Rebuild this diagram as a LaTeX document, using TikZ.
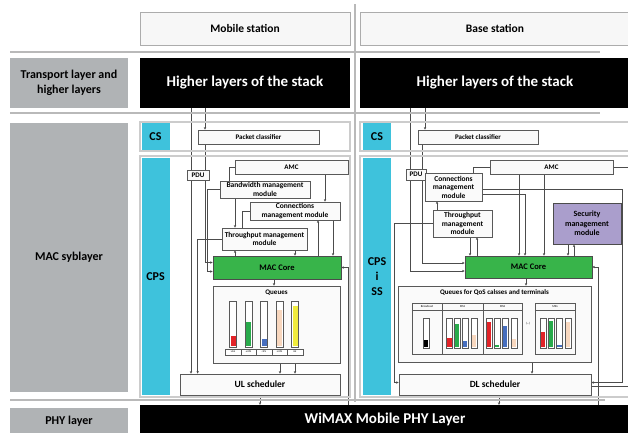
\documentclass[tikz,border=0pt]{standalone}
\usepackage{fontspec}
\setmainfont{Carlito}
\usetikzlibrary{positioning,arrows.meta,backgrounds}

\definecolor{laygray}{RGB}{176,179,181}
\definecolor{cpscyan}{RGB}{62,194,220}
\definecolor{coregreen}{RGB}{56,180,74}
\definecolor{secpurple}{RGB}{170,158,204}
\definecolor{qred}{RGB}{226,35,40}
\definecolor{qgreen}{RGB}{40,170,75}
\definecolor{qblue}{RGB}{70,110,190}
\definecolor{qpeach}{RGB}{248,215,190}
\definecolor{qyellow}{RGB}{240,235,60}

\tikzset{
  lay/.style={fill=laygray, inner sep=0pt, align=center,
    font=\bfseries\fontsize{12}{15}\selectfont},
  blk/.style={fill=black, text=white, inner sep=0pt,
    font=\bfseries\fontsize{15}{17}\selectfont},
  head/.style={draw=gray!65, fill=gray!6, line width=0.9pt, inner sep=0pt,
    font=\bfseries\fontsize{11.5}{13}\selectfont},
  region/.style={draw=gray!40, line width=1.3pt, inner sep=0pt},
  cyanbox/.style={fill=cpscyan, inner sep=0pt, align=center,
    font=\bfseries\fontsize{12}{15}\selectfont},
  mod/.style={draw=gray!70!black, fill=gray!4, line width=0.7pt, inner sep=0pt,
    align=center, font=\bfseries\fontsize{7.5}{8.5}\selectfont},
  hdr/.style={mod, font=\bfseries\fontsize{7}{8}\selectfont},
  core/.style={draw=gray!60!black, fill=coregreen, line width=0.7pt,
    inner sep=0pt, font=\bfseries\fontsize{8.5}{10}\selectfont},
  sched/.style={mod, font=\bfseries\fontsize{9.5}{11}\selectfont},
  sec/.style={draw=gray!60!black, fill=secpurple, line width=0.9pt,
    inner sep=0pt, align=center, font=\bfseries\fontsize{8}{9.5}\selectfont},
  qtitle/.style={inner sep=0pt, font=\bfseries\fontsize{7}{8}\selectfont},
  grp/.style={draw=gray!70!black, line width=0.5pt, inner sep=0pt},
  qlab/.style={inner sep=0pt, font=\fontsize{3}{3.5}\selectfont},
  qcell/.style={draw=gray!70!black, fill=white, line width=0.4pt,
    inner sep=0pt, font=\fontsize{2.5}{3}\selectfont},
  tube/.style={draw=gray!70!black, fill=white, line width=0.5pt},
  sepline/.style={draw=gray!55, line width=1.3pt},
  link/.style={draw=gray!60!black, line width=0.7pt},
  arr/.style={link, -{Stealth[length=2.6pt,width=2.4pt]}},
}

\begin{document}
\begin{tikzpicture}[x=1pt,y=-1pt]
\useasboundingbox (0,0) rectangle (628,432);
\clip (0,0) rectangle (628,432);

% separators
\draw[sepline] (10,52) -- (600,52);
\draw[sepline] (10,113) -- (600,113);
\draw[sepline] (10,400) -- (605,400);
\draw[sepline] (355,4) -- (355,402);

% layer labels
\node[lay, minimum width=118, minimum height=50] (trLab) at (69,83) {Transport layer and\\higher layers};
\node[lay, minimum width=118, minimum height=269] (macLab) at (69,257.5) {MAC syblayer};
\node[lay, minimum width=118, minimum height=26] (phyLab) at (69,421) {PHY layer};

% stations
\node[head, minimum width=210, minimum height=33] (msHead) at (245,28.5) {Mobile station};
\node[head, minimum width=270, minimum height=33] (bsHead) at (495,28.5) {Base station};
\node[blk, minimum width=210, minimum height=50] (hlMS) at (245,83) {Higher layers of the stack};
\node[blk, minimum width=270, minimum height=50] (hlBS) at (495,83) {Higher layers of the stack};
\node[blk, minimum width=490, minimum height=29] (phy) at (385,419.5) {WiMAX Mobile PHY Layer};

% mobile station
\node[region, minimum width=210, minimum height=29] (csMSr) at (245,136.5) {};
\node[region, minimum width=210, minimum height=241] (cpsMSr) at (245,276.5) {};
\node[cyanbox, minimum width=28, minimum height=27] (csMS) at (155.5,136.5) {CS};
\node[cyanbox, minimum width=28, minimum height=237] (cpsMS) at (155.5,276.5) {CPS};
\node[hdr, minimum width=121, minimum height=14] (pcMS) at (258.5,137) {Packet classifier};
\node[hdr, minimum width=22, minimum height=10] (pduMS) at (198,175) {PDU};
\node[hdr, minimum width=113, minimum height=14] (amcMS) at (291.5,167) {AMC};
\node[mod, minimum width=90, minimum height=17] (bwMS) at (265,189.5) {Bandwidth management\\module};
\node[mod, minimum width=90, minimum height=18] (conMS) at (295,211) {Connections\\management module};
\node[mod, minimum width=85, minimum height=22] (thrMS) at (264.5,239) {Throughput management\\module};
\node[core, minimum width=128, minimum height=23] (macMS) at (277,267.5) {MAC Core};
\node[mod, minimum width=127, minimum height=77] (queMS) at (276.5,324.5) {};
\node[qtitle, below=4pt of queMS.north] (queMSt) {Queues};
\foreach \x/\f/\c in {233/0.22/qred, 248.5/0.54/qgreen, 264/0.17/qblue,
    279.5/0.82/qpeach, 295/0.9/qyellow}{
  \draw[tube] (\x-3.3,301) rectangle (\x+3.3,347);
  \fill[\c] (\x-2.5,346.3) rectangle (\x+2.5,346.3-44.6*\f);
}
\foreach \x/\t [count=\i] in {233/UGS, 248.5/ertPS, 264/rtPS, 279.5/nrtPS, 295/BE}
  \node[qcell, minimum width=15.5, minimum height=6] (cell\i) at (\x,352) {\t};
\node[sched, minimum width=160, minimum height=21] (ulMS) at (260,384.5) {UL scheduler};

% base station
\node[region, minimum width=270, minimum height=29] (csBSr) at (495,136.5) {};
\node[region, minimum width=270, minimum height=241] (cpsBSr) at (495,276.5) {};
\node[cyanbox, minimum width=28, minimum height=27] (csBS) at (377,136.5) {CS};
\node[cyanbox, minimum width=28, minimum height=237] (cpsBS) at (377,276.5) {CPS\\i\\SS};
\node[hdr, minimum width=120, minimum height=14] (pcBS) at (478,137) {Packet classifier};
\node[hdr, minimum width=20, minimum height=11] (pduBS) at (416,174.5) {PDU};
\node[mod, minimum width=57, minimum height=28] (conBS) at (453.5,187) {Connections\\management\\module};
\node[hdr, minimum width=123, minimum height=14] (amcBS) at (551.5,167) {AMC};
\node[mod, minimum width=59, minimum height=27] (thrBS) at (462.5,223.5) {Throughput\\management\\module};
\node[sec, minimum width=68, minimum height=41] (secBS) at (587,223.5) {Security\\management\\module};
\node[core, minimum width=127, minimum height=22] (macBS) at (528.5,267) {MAC Core};
\node[mod, minimum width=193, minimum height=76] (queBS) at (494.5,324) {};
\node[qtitle, below=4pt of queBS.north] (queBSt) {Queues for QoS calsses and terminals};
\foreach \n/\cx/\w/\t in {brd/427/30/Broadcast, ms1/462.5/41/MS1,
    ms2/502.5/39/MS2, msn/555/40/MSn}{
  \node[grp, minimum width=\w, minimum height=51] (\n) at (\cx,328.5) {};
  \draw[grp] ([yshift=-7]\n.north west) -- ([yshift=-7]\n.north east);
  \node[qlab] (\n t) at ([yshift=-3.5]\n.north) {\t};
}
\foreach \x/\f/\c in {426/0.27/black, 449.5/0.33/qred, 457/0.82/qgreen,
    465/0.22/qblue, 474/0.43/qpeach, 489/0.9/qred, 497/0.08/qgreen,
    505/0.74/qblue, 514/0.28/qpeach, 543/0.55/qred, 551/0.93/qgreen,
    559.5/0.07/qblue, 568/0.89/qpeach}{
  \draw[tube] (\x-3,318) rectangle (\x+3,348);
  \fill[\c] (\x-2.2,347.3) rectangle (\x+2.2,347.3-28.6*\f);
}
\node[qlab] (dots) at (528,324) {(...)};
\node[sched, minimum width=192, minimum height=21] (dlBS) at (495,384.5) {DL scheduler};

% connectors
\begin{scope}[on background layer]
  % mobile station
  \draw[arr] ([xshift=-40]hlMS.south) -- ([xshift=-40]hlMS.south |- pcMS.north);
  \draw[link] ([xshift=-54]hlMS.south) -- ([xshift=-54]hlMS.south |- pduMS.north);
  \draw[arr] ([xshift=-7]pduMS.south) -- ([xshift=-7]pduMS.south |- ulMS.north);
  \draw[arr] ([xshift=-53.5]pcMS.south) |- ([yshift=5]macMS.west);
  \draw[link] (amcMS.west) -| ([xshift=10]bwMS.north west);
  \draw[arr] ([xshift=33.5]amcMS.south) -- ([xshift=33.5]amcMS.south |- conMS.north);
  \draw[arr] ([xshift=-30]bwMS.south) -- ([xshift=-30]bwMS.south |- thrMS.north);
  \draw[arr] (bwMS.west) -- ++(-12,0) |- ([yshift=-4]macMS.west);
  \draw[link] (conMS.west) -| ([xshift=21]thrMS.north west);
  \draw[arr] ([xshift=23]conMS.south |- macMS.north) -- ([xshift=23]conMS.south);
  \draw[arr] ([xshift=38]conMS.south) -- ([xshift=38]conMS.south |- macMS.north);
  \draw[arr] ([xshift=-29.5]thrMS.south |- macMS.north) -- ([xshift=-29.5]thrMS.south);
  \draw[arr] ([xshift=30.5]thrMS.south) -- ([xshift=30.5]thrMS.south |- macMS.north);
  \draw[arr] (thrMS.west) -| ([xshift=18]ulMS.north west);
  \draw[arr] ([xshift=-3]macMS.south) -- ([xshift=-3]macMS.south |- queMS.north);
  \draw[arr] ([xshift=3.5]queMS.south) -- ([xshift=3.5]queMS.south |- ulMS.north);
  \draw[arr] ([xshift=18.5]queMS.south) -- ([xshift=18.5]queMS.south |- ulMS.north);
  \draw[arr] (ulMS.south) -- (ulMS.south |- phy.north);
  \draw[arr] ([xshift=7]macMS.east |- phy.north) |- (macMS.east);
  % base station
  \draw[arr] ([xshift=-70]hlBS.south) -- ([xshift=-70]hlBS.south |- pcBS.north);
  \draw[link] ([xshift=-85]hlBS.south) -- ([xshift=-85]hlBS.south |- pduBS.north);
  \draw[arr] ([xshift=-6]pduBS.south) |- ([yshift=-4]macBS.west);
  \draw[arr] ([xshift=-56]pcBS.south) |- ([yshift=4]macBS.west);
  \draw[link] (amcBS.west) -| ([xshift=20]conBS.north);
  \draw[link] (amcBS.east) -- (amcBS.east -| cpsBSr.east);
  \draw[arr] ([xshift=-32.5]amcBS.south) -- ([xshift=-32.5]amcBS.south |- macBS.north);
  \draw[arr] ([xshift=-7.5]amcBS.south) -- ([xshift=-7.5]amcBS.south |- macBS.north);
  \draw[arr] ([yshift=-7]conBS.east) -| ([xshift=-3.5]macBS.north);
  \draw[arr] ([yshift=-2]conBS.east) -| ([xshift=-8]cpsBSr.east) |- ([yshift=2]dlBS.east);
  \draw[link] ([yshift=-2]dlBS.east) -- ([yshift=-2]dlBS.east -| cpsBSr.east);
  \draw[arr] ([xshift=-16.5]conBS.south |- thrBS.north) -- ([xshift=-16.5]conBS.south);
  \draw[arr] ([xshift=7.5]thrBS.south) -- ([xshift=7.5]thrBS.south |- macBS.north);
  \draw[arr] ([xshift=14.5]thrBS.south |- macBS.north) -- ([xshift=14.5]thrBS.south);
  \draw[arr] (thrBS.west) -- ++(-38,0) |- ([yshift=2]dlBS.west);
  \draw[arr] ([xshift=-19]secBS.south) -- ([xshift=-19]secBS.south |- macBS.north);
  \draw[arr] ([xshift=-13]secBS.south |- macBS.north) -- ([xshift=-13]secBS.south);
  \draw[arr] ([xshift=-2.5]macBS.south) -- ([xshift=-2.5]macBS.south |- queBS.north);
  \draw[arr] ([xshift=37.5]queBS.south) -- ([xshift=37.5]queBS.south |- dlBS.north);
  \draw[arr] ([xshift=4]dlBS.south) -- ([xshift=4]dlBS.south |- phy.north);
  \draw[arr] ([xshift=6]macBS.east |- phy.north) |- (macBS.east);
\end{scope}
\end{tikzpicture}
\end{document}
